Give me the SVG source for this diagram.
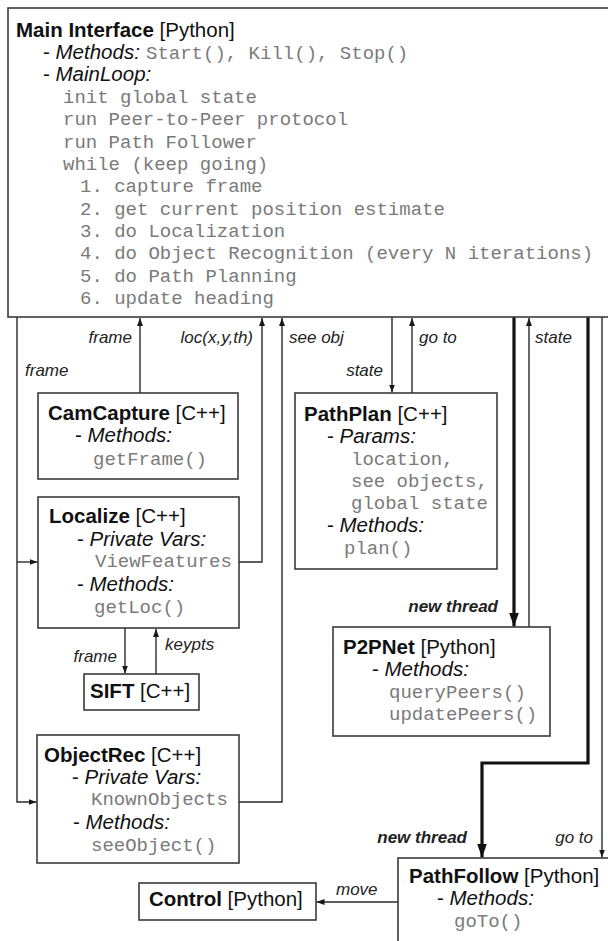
<svg xmlns="http://www.w3.org/2000/svg" width="608" height="941" viewBox="0 0 608 941">
  <style>
    .box { fill: #ffffff; stroke: #3a3a3a; stroke-width: 1.6; }
    .t { font-family: "Liberation Sans", Arial, sans-serif; font-size: 20.5px; fill: #111; }
    .b { font-weight: bold; }
    .i { font-style: italic; }
    .m { font-family: "Liberation Mono", "Courier New", monospace; font-size: 19px; fill: #7a7a7a; }
    .lbl { font-family: "Liberation Sans", Arial, sans-serif; font-size: 17px; font-style: italic; fill: #222; }
    .lb { font-weight: bold; }
    .c { fill: none; stroke: #2a2a2a; stroke-width: 1.4; }
    .ck { fill: none; stroke: #111; stroke-width: 3.2; }
  </style>
  <defs>
    <marker id="ah" viewBox="0 0 8 6" refX="8" refY="3" markerWidth="8" markerHeight="6" markerUnits="userSpaceOnUse" orient="auto">
      <path d="M0,0 L8,3 L0,6 z" fill="#1a1a1a"/>
    </marker>
    <marker id="ahb" viewBox="0 0 14 10" refX="14" refY="5" markerWidth="14" markerHeight="10" markerUnits="userSpaceOnUse" orient="auto">
      <path d="M0,0 L14,5 L0,10 z" fill="#111"/>
    </marker>
  </defs>

  <!-- connectors -->
  <g id="connectors">
    <!-- frame to Localize and ObjectRec -->
    <path class="c" d="M17,317 V802 H36.5" marker-end="url(#ah)"/>
    <path class="c" d="M17,562 H37.5" marker-end="url(#ah)"/>
    <text class="lbl" x="25" y="376">frame</text>
    <!-- CamCapture frame up -->
    <path class="c" d="M140,393 V318" marker-end="url(#ah)"/>
    <text class="lbl" x="132" y="343" text-anchor="end">frame</text>
    <!-- Localize loc up -->
    <path class="c" d="M239,562 H262 V318" marker-end="url(#ah)"/>
    <text class="lbl" x="253" y="343" text-anchor="end">loc(x,y,th)</text>
    <!-- ObjectRec see obj up -->
    <path class="c" d="M239,802 H282 V318" marker-end="url(#ah)"/>
    <text class="lbl" x="289" y="343">see obj</text>
    <!-- PathPlan state / go to -->
    <path class="c" d="M392,317 V392.5" marker-end="url(#ah)"/>
    <text class="lbl" x="383" y="376" text-anchor="end">state</text>
    <path class="c" d="M412,393 V318" marker-end="url(#ah)"/>
    <text class="lbl" x="419" y="343">go to</text>
    <!-- P2PNet new thread / state -->
    <path class="ck" d="M514,317 V626.5" marker-end="url(#ahb)"/>
    <text class="lbl lb" x="498" y="612" text-anchor="end">new thread</text>
    <path class="c" d="M529,627 V318" marker-end="url(#ah)"/>
    <text class="lbl" x="535" y="343">state</text>
    <!-- PathFollow new thread / go to -->
    <path class="ck" d="M588,317 V763 H482 V857.5" marker-end="url(#ahb)"/>
    <text class="lbl lb" x="467" y="843" text-anchor="end">new thread</text>
    <path class="c" d="M602,317 V857.5" marker-end="url(#ah)"/>
    <text class="lbl" x="593" y="843" text-anchor="end">go to</text>
    <!-- SIFT frame / keypts -->
    <path class="c" d="M125,628 V673.5" marker-end="url(#ah)"/>
    <text class="lbl" x="117" y="662" text-anchor="end">frame</text>
    <path class="c" d="M156,674 V629" marker-end="url(#ah)"/>
    <text class="lbl" x="165" y="650">keypts</text>
    <!-- PathFollow move to Control -->
    <path class="c" d="M398,902 H316.5" marker-end="url(#ah)"/>
    <text class="lbl" x="336" y="895">move</text>
  </g>

  <!-- Main Interface -->
  <g id="main-interface">
    <rect class="box" x="8" y="8" width="610" height="309" stroke-width="2"/>
    <text class="t" x="16" y="37"><tspan class="b">Main Interface</tspan> [Python]</text>
    <text class="t" x="43" y="59">- <tspan class="i">Methods:</tspan></text>
    <text class="m" x="146" y="59">Start(), Kill(), Stop()</text>
    <text class="t" x="43" y="81">- <tspan class="i">MainLoop:</tspan></text>
    <text class="m" x="63" y="103">init global state</text>
    <text class="m" x="63" y="125">run Peer-to-Peer protocol</text>
    <text class="m" x="63" y="148">run Path Follower</text>
    <text class="m" x="63" y="170">while (keep going)</text>
    <text class="m" x="80" y="192">1. capture frame</text>
    <text class="m" x="80" y="215">2. get current position estimate</text>
    <text class="m" x="80" y="237">3. do Localization</text>
    <text class="m" x="80" y="259">4. do Object Recognition (every N iterations)</text>
    <text class="m" x="80" y="282">5. do Path Planning</text>
    <text class="m" x="80" y="304">6. update heading</text>
  </g>

  <!-- CamCapture -->
  <g id="camcapture">
    <rect class="box" x="38" y="393" width="200" height="86"/>
    <text class="t" x="48" y="420"><tspan class="b">CamCapture</tspan> [C++]</text>
    <text class="t" x="75" y="442">- <tspan class="i">Methods:</tspan></text>
    <text class="m" x="93" y="465">getFrame()</text>
  </g>

  <!-- Localize -->
  <g id="localize">
    <rect class="box" x="38" y="497" width="201" height="131"/>
    <text class="t" x="49" y="523"><tspan class="b">Localize</tspan> [C++]</text>
    <text class="t" x="77" y="546">- <tspan class="i">Private Vars:</tspan></text>
    <text class="m" x="95" y="567">ViewFeatures</text>
    <text class="t" x="77" y="591">- <tspan class="i">Methods:</tspan></text>
    <text class="m" x="94" y="613">getLoc()</text>
  </g>

  <!-- SIFT -->
  <g id="sift">
    <rect class="box" x="84" y="674" width="115" height="36"/>
    <text class="t" x="90" y="698"><tspan class="b">SIFT</tspan> [C++]</text>
  </g>

  <!-- ObjectRec -->
  <g id="objectrec">
    <rect class="box" x="37" y="735" width="202" height="128"/>
    <text class="t" x="44" y="762"><tspan class="b">ObjectRec</tspan> [C++]</text>
    <text class="t" x="72" y="784">- <tspan class="i">Private Vars:</tspan></text>
    <text class="m" x="91" y="805">KnownObjects</text>
    <text class="t" x="73" y="829">- <tspan class="i">Methods:</tspan></text>
    <text class="m" x="91" y="851">seeObject()</text>
  </g>

  <!-- Control -->
  <g id="control">
    <rect class="box" x="139" y="883" width="177" height="37"/>
    <text class="t" x="149" y="906"><tspan class="b">Control</tspan> [Python]</text>
  </g>

  <!-- PathPlan -->
  <g id="pathplan">
    <rect class="box" x="295" y="393" width="202" height="176"/>
    <text class="t" x="304" y="421"><tspan class="b">PathPlan</tspan> [C++]</text>
    <text class="t" x="327" y="443">- <tspan class="i">Params:</tspan></text>
    <text class="m" x="351" y="465">location,</text>
    <text class="m" x="351" y="487">see objects,</text>
    <text class="m" x="351" y="509">global state</text>
    <text class="t" x="327" y="532">- <tspan class="i">Methods:</tspan></text>
    <text class="m" x="344" y="554">plan()</text>
  </g>

  <!-- P2PNet -->
  <g id="p2pnet">
    <rect class="box" x="333" y="627" width="217" height="109"/>
    <text class="t" x="343" y="654"><tspan class="b">P2PNet</tspan> [Python]</text>
    <text class="t" x="372" y="676">- <tspan class="i">Methods:</tspan></text>
    <text class="m" x="389" y="698">queryPeers()</text>
    <text class="m" x="389" y="720">updatePeers()</text>
  </g>

  <!-- PathFollow -->
  <g id="pathfollow">
    <rect class="box" x="398" y="858" width="220" height="100"/>
    <text class="t" x="409" y="883"><tspan class="b">PathFollow</tspan> [Python]</text>
    <text class="t" x="437" y="905">- <tspan class="i">Methods:</tspan></text>
    <text class="m" x="454" y="927">goTo()</text>
  </g>
</svg>
